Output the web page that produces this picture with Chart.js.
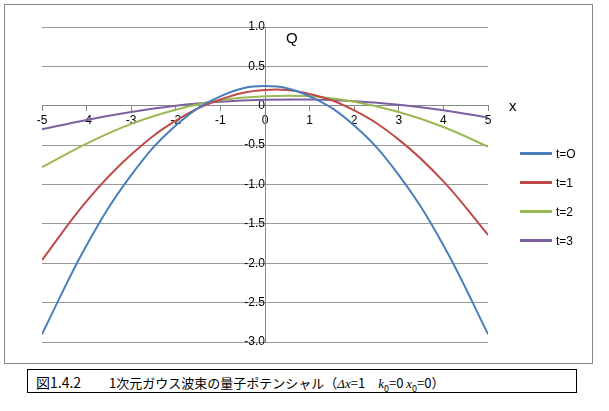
<!DOCTYPE html>
<html><head><meta charset="utf-8">
<script src="https://cdn.jsdelivr.net/npm/chart.js@4"></script>
<style>
body{margin:0;background:#fff;font-family:"Liberation Sans",sans-serif}
#box{position:absolute;left:4px;top:4px;width:587px;height:358px;border:1px solid #888}
#c{position:absolute;left:0;top:0}
#legend{position:absolute;left:515px;top:134px;font-size:12px}
#legend div{height:29px;display:flex;align-items:center}
#legend span{display:inline-block;width:32px;height:3px;margin-right:4px}
#cap{position:absolute;left:27px;top:369px;width:550px;height:24px;border:1px solid #000;font-family:"Noto Sans CJK JP";font-size:14px;line-height:24px;padding-left:8px;box-sizing:border-box}
</style></head><body>
<div id="box"><canvas id="c" width="587" height="358"></canvas><div id="legend"></div></div>
<div id="cap">図1.4.2　　<span style="font-size:13px">1次元ガウス波束の量子ポテンシャル（<i style="font-family:'Liberation Serif'">Δx</i>=1　<i style="font-family:'Liberation Serif'">k</i><sub style="font-size:9px">0</sub>=0 <i style="font-family:'Liberation Serif'">x</i><sub style="font-size:9px">0</sub>=0）</span></div>
<script>
const xs = [-5,-4,-3,-2,-1,0,1,2,3,4,5];
const seriesNames = ['t=O','t=1','t=2','t=3'];
const colors = ['#4a7ebb','#be4b48','#98b954','#7d60a0'];
const t0 = [-2.9,-1.77,-0.88,-0.25,0.12,0.25,0.12,-0.25,-0.88,-1.77,-2.9];
const t1 = [-1.96,-1.21,-0.62,-0.19,0.08,0.20,0.15,-0.06,-0.43,-0.96,-1.64];
const t2 = [-0.78,-0.48,-0.23,-0.05,0.07,0.12,0.12,0.05,-0.08,-0.27,-0.52];
const t3 = [-0.30,-0.18,-0.08,0.0,0.05,0.075,0.078,0.057,0.013,-0.056,-0.15];
const yTicks = [-3,-2.5,-2,-1.5,-1,-0.5,0,0.5,1];
const allY = [t0,t1,t2,t3];

const titles = {id:'titles',afterDraw(ch){
  const c=ch.ctx;c.save();c.fillStyle='#000';c.font='15px "Liberation Sans"';
  c.fillText('Q',281,38);c.fillText('x',504,106);c.restore();}};

new Chart(document.getElementById('c'),{
  type:'line',
  data:{datasets:allY.map((ys,i)=>({label:seriesNames[i],data:xs.map((x,j)=>({x,y:ys[j]})),
    borderColor:colors[i],borderWidth:2,pointRadius:0,tension:0.4,fill:false}))},
  options:{responsive:false,animation:false,
    layout:{padding:{left:37,right:104,top:22,bottom:21}},
    plugins:{legend:{display:false},tooltip:{enabled:false}},
    scales:{
      x:{type:'linear',min:-5,max:5,position:{y:0},
        ticks:{stepSize:1,color:'#000',font:{size:12,family:'Liberation Sans'},maxRotation:0},
        grid:{drawOnChartArea:false,color:'#888',tickLength:5},border:{color:'#888'}},
      y:{type:'linear',min:-3,max:1,position:{x:0},afterBuildTicks:s=>{s.ticks=yTicks.map(v=>({value:v}));},
        ticks:{color:'#000',font:{size:12,family:'Liberation Sans'}},
        grid:{color:'#999',tickLength:5},border:{color:'#888'}}
    }},
  plugins:[titles]
});
document.getElementById('legend').innerHTML=seriesNames.map((n,i)=>`<div><span style="background:${colors[i]}"></span>${n}</div>`).join('');
</script></body></html>
